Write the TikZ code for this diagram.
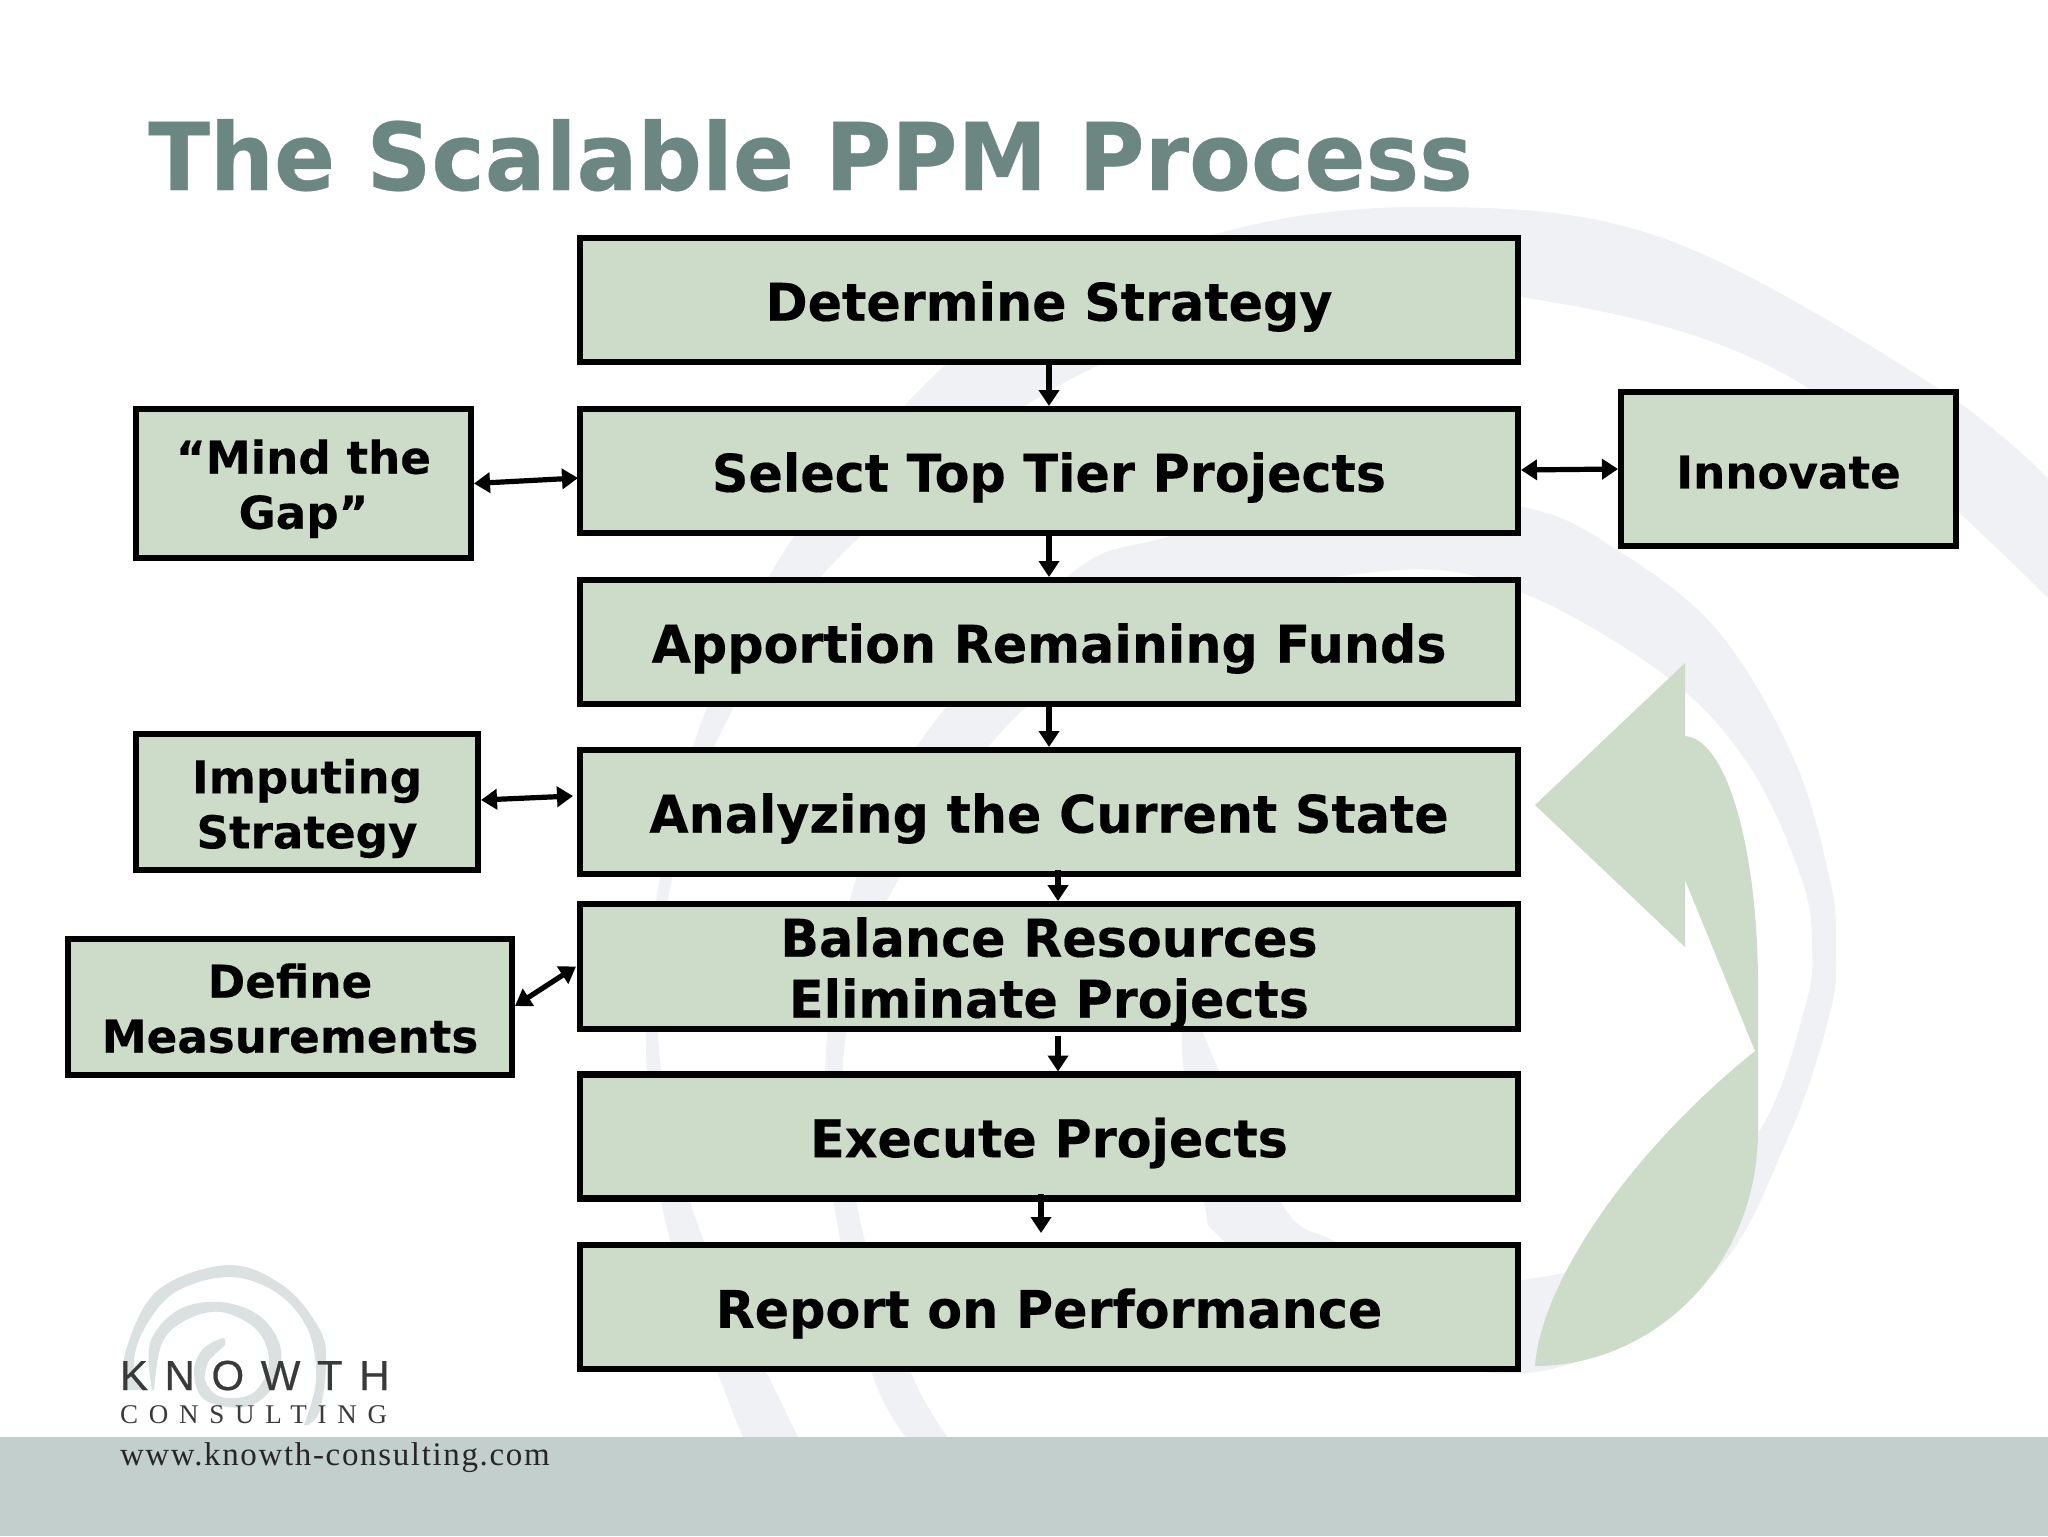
\documentclass[tikz,border=0pt]{standalone}
\usepackage{fontspec}
\setmainfont{DejaVu Sans}
\newfontfamily\titlefont[FakeStretch=0.965,FakeBold=0.35]{DejaVu Sans Bold}
\newfontfamily\boxfont[FakeStretch=0.976,FakeBold=0.3]{DejaVu Sans Bold}
\newfontfamily\sidefont[FakeBold=0.3]{DejaVu Sans Bold}
\newfontfamily\logosans[LetterSpace=39.5,FakeBold=0.5]{Liberation Sans}
\newfontfamily\logoserif[LetterSpace=40]{Liberation Serif}
\newfontfamily\logourl[LetterSpace=5]{Liberation Serif}
\usetikzlibrary{arrows.meta}
\definecolor{boxfill}{HTML}{CDDCC9}
\definecolor{swirl}{HTML}{F0F1F4}
\definecolor{foot}{HTML}{C3CFCC}
\definecolor{titlecol}{HTML}{6C8681}
\definecolor{logoswirl}{HTML}{DBE1E0}
\definecolor{logotext}{HTML}{3A3A3A}
\newcommand{\topgap}[1]{\rule{0pt}{#1}}
\tikzset{
  mainbox/.style={draw=black,line width=3.3pt,fill=boxfill,rectangle,outer sep=0pt,inner sep=0pt,
    minimum width=469pt,minimum height=62pt,align=center,
    font=\fontsize{26}{30.5}\selectfont\boxfont},
  sidebox/.style={draw=black,line width=3.3pt,fill=boxfill,rectangle,outer sep=0pt,inner sep=0pt,
    align=center,font=\fontsize{22.6}{27.5}\selectfont\sidefont},
  vflow/.style={line width=3pt,-{Triangle[length=8pt,width=10pt]}},
  bothway/.style={line width=2.6pt,{Triangle[length=8pt,width=10pt]}-{Triangle[length=8pt,width=10pt]}},
  logotxt/.style={anchor=base west,inner sep=0pt,outer sep=0pt,text=logotext},
}
\begin{document}
\begin{tikzpicture}[x=0.5pt,y=-0.5pt]
\useasboundingbox (0,0) rectangle (2048,1536);
\fill[white] (0,0) rectangle (2048,1536);
% background swirl
\fill[swirl] plot[smooth,tension=0.6] coordinates {(2060,490)(1936,387)(1668,240)(1441,207)(1220,233)(1000,330)(905,405)(785,550)(700,726)(658,889)(646,1050)(665,1220)(728,1400)(750,1450)}
  -- plot[smooth,tension=0.6] coordinates {(805,1450)(780,1400)(696,1220)(659,1050)(670,889)(724,726)(840,556)(1060,385)(1300,300)(1521,297)(1795,380)(2060,610)} -- cycle;
\fill[swirl] plot[smooth,tension=0.6] coordinates {(908,1440)(872,1373)(834,1203)(826,1050)(853,889)(917,746)(1067,577)(1167,537)(1350,495)(1523,507)(1617,550)(1717,630)(1793,757)(1830,880)(1836,947)(1830,1013)(1787,1140)(1707,1280)(1535,1372)(1330,1330)(1223,1240)(1204,1203)(1182,1050)(1190,1000)}
  -- plot[smooth,tension=0.6] coordinates {(1210,1050)(1281,1203)(1332,1240)(1420,1275)(1522,1280)(1660,1240)(1760,1130)(1805,1007)(1812,947)(1802,880)(1750,767)(1667,677)(1523,593)(1400,570)(1200,610)(1027,706)(893,889)(844,1050)(860,1220)(911,1373)(950,1440)} -- cycle;
% footer
\fill[foot] (0,1437) rectangle (2048,1536);
% big curved arrow
\fill[boxfill] (1535,805) -- (1685,663) -- (1685,736)
  .. controls (1730,740) and (1758,860) .. (1758,984) -- (1758,1130)
  .. controls (1758,1270) and (1650,1366) .. (1535,1366)
  .. controls (1540,1290) and (1620,1160) .. (1755,1051)
  -- (1685,880) -- (1685,947) -- cycle;
% logo swirl
\fill[logoswirl] plot[smooth,tension=0.6] coordinates {(126,1390)(126,1350)(158,1290)(229,1265)(285,1287)(320,1330)(326,1363)(320,1410)(308,1425)}
  -- plot[smooth,tension=0.6] coordinates {(304,1425)(316,1380)(308,1330)(277,1293)(229,1277)(174,1293)(142,1333)(134,1370)(148,1390)} -- cycle;
\fill[logoswirl] plot[smooth,tension=0.6] coordinates {(152,1390)(150,1343)(178,1310)(221,1302)(261,1317)(281,1350)(273,1387)(245,1407)(205,1400)(194,1373)(202,1350)(223,1338)(225,1345)}
  -- plot[smooth,tension=0.6] coordinates {(209,1360)(205,1380)(221,1397)(253,1393)(269,1363)(257,1330)(221,1312)(186,1320)(162,1343)(154,1390)} -- cycle;
% title
\node[anchor=base west,inner sep=0pt,text=titlecol,font=\fontsize{46.7}{50}\selectfont\titlefont] (title) at (148,190) {The Scalable PPM Process};
% main boxes
\node[mainbox] (det) at (1049,300) {\topgap{26.3pt}Determine Strategy};
\node[mainbox] (sel) at (1049,471) {\topgap{26.3pt}Select Top Tier Projects};
\node[mainbox] (app) at (1049,642) {\topgap{26.3pt}Apportion Remaining Funds};
\node[mainbox] (ana) at (1049,812) {\topgap{26.3pt}Analyzing the Current State};
\node[mainbox] (bal) at (1049,966.5) {\topgap{26.3pt}Balance Resources\\Eliminate Projects};
\node[mainbox] (exe) at (1049,1136.5) {\topgap{26.3pt}Execute Projects};
\node[mainbox] (rep) at (1049,1307) {\topgap{26.3pt}Report on Performance};
% side boxes
\node[sidebox,minimum width=167.5pt,minimum height=74.5pt] (mind) at (303.5,483.5) {\topgap{22.4pt}“Mind the\\Gap”};
\node[sidebox,minimum width=167.5pt,minimum height=77pt] (inno) at (1788.5,469) {\topgap{19.8pt}Innovate};
\node[sidebox,minimum width=171pt,minimum height=68pt] (imp) at (307,802) {\topgap{23.7pt}Imputing\\Strategy};
\node[sidebox,minimum width=222pt,minimum height=68pt] (def) at (290,1007) {\topgap{18.5pt}Define\\Measurements};
% vertical connectors
\draw[vflow] (det.south) -- ([yshift=1.5pt]sel.north);
\draw[vflow] (sel.south) -- ([yshift=1.5pt]app.north);
\draw[vflow] (app.south) -- ([yshift=1.5pt]ana.north);
\draw[vflow] ([xshift=4.5pt,yshift=2pt]ana.south) -- ([xshift=4.5pt,yshift=1.5pt]bal.north);
\draw[vflow] ([xshift=4.5pt,yshift=-3.5pt]bal.south) -- ([xshift=4.5pt,yshift=1.5pt]exe.north);
\draw[vflow] ([xshift=-4pt,yshift=2.5pt]exe.south) -- ([xshift=-4pt,yshift=6pt]rep.north);
% two-way connectors
\draw[bothway] ([xshift=1.5pt]mind.east) -- ([xshift=-1pt,yshift=-3.5pt]sel.west);
\draw[bothway] ([xshift=1.5pt,yshift=.5pt]sel.east) -- ([xshift=-1.5pt]inno.west);
\draw[bothway] ([xshift=1.5pt,yshift=1pt]imp.east) -- ([xshift=-3.5pt,yshift=8pt]ana.west);
\draw[bothway] ([xshift=1.5pt,yshift=.5pt]def.east) -- ([xshift=-2pt]bal.west);
% logo text
\node[logotxt,font=\fontsize{21}{24}\selectfont\logosans] (lkn) at (120,1390) {KNOWTH};
\node[logotxt,font=\fontsize{13.5}{16}\selectfont\logoserif] (lco) at (120,1423) {CONSULTING};
\node[logotxt,font=\fontsize{16.5}{20}\selectfont\logourl,text=black!85] (lur) at (120,1465) {www.knowth-consulting.com};
\end{tikzpicture}
\end{document}
